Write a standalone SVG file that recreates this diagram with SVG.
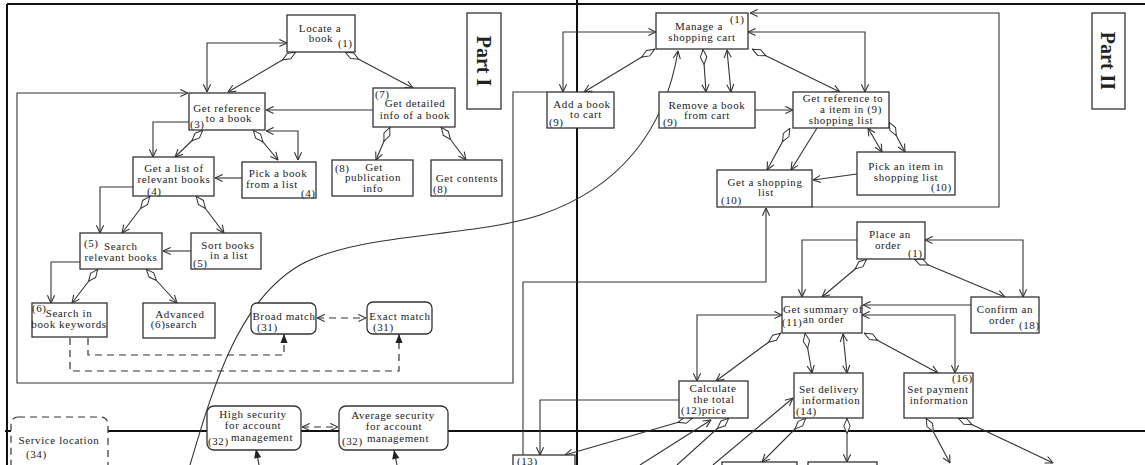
<svg xmlns="http://www.w3.org/2000/svg" width="1145" height="465" viewBox="0 0 1145 465">
<style>
.b{fill:#fff;stroke:#333;stroke-width:1.3}
.t{font-family:"Liberation Serif",serif;font-size:11px;fill:#222;letter-spacing:0.6px}
.m{text-anchor:middle}
.c{fill:none;stroke:#333;stroke-width:1.1}
.dd{fill:none;stroke:#333;stroke-width:1.2;stroke-dasharray:7,5}
.f{fill:none;stroke:#111;stroke-width:2}
.p{font-family:"Liberation Serif",serif;font-size:20px;font-weight:bold;fill:#222;text-anchor:middle;dominant-baseline:central}
</style>
<defs>
<marker id="a" viewBox="0 0 10 10" refX="9.5" refY="5" markerWidth="9" markerHeight="9" markerUnits="userSpaceOnUse" orient="auto-start-reverse"><path d="M1,1 L9.5,5 L1,9" fill="none" stroke="#333" stroke-width="1.2"/></marker>
<marker id="dm" viewBox="0 0 16 8" refX="0" refY="4" markerWidth="16" markerHeight="8" markerUnits="userSpaceOnUse" orient="auto"><path d="M0.5,4 L8,0.8 L15.5,4 L8,7.2 Z" fill="#fff" stroke="#333" stroke-width="1"/></marker>
<marker id="fa" viewBox="0 0 10 10" refX="10" refY="5" markerWidth="10" markerHeight="9" markerUnits="userSpaceOnUse" orient="auto"><path d="M0,1 L10,5 L0,9 Z" fill="#222"/></marker>
</defs>
<rect width="1145" height="465" fill="#fff"/>

<g id="frame">
<line class="f" x1="7" y1="4" x2="1145" y2="4"/>
<line class="f" x1="7" y1="4" x2="7" y2="465"/>
<line class="f" x1="577" y1="0" x2="577" y2="465"/>
<line class="f" x1="5" y1="431" x2="1145" y2="431"/>
</g>

<g id="connectors">
<path class="c" d="M287,43 L207,43 L207,92" marker-start="url(#a)" marker-end="url(#a)"/>
<path class="c" d="M296,52 L228,92" marker-start="url(#dm)" marker-end="url(#a)"/>
<path class="c" d="M345,52 L413,88" marker-start="url(#dm)" marker-end="url(#a)"/>
<path class="c" d="M373,110 L266,110" marker-end="url(#a)"/>
<path class="c" d="M266,131 L298,131 L298,160" marker-start="url(#a)" marker-end="url(#a)"/>
<path class="c" d="M189,122 L153,122 L153,157" marker-end="url(#a)"/>
<path class="c" d="M203,130 L175,157" marker-start="url(#dm)" marker-end="url(#a)"/>
<path class="c" d="M253,130 L278,160" marker-start="url(#dm)" marker-end="url(#a)"/>
<path class="c" d="M390,127 L376,160" marker-start="url(#dm)" marker-end="url(#a)"/>
<path class="c" d="M441,127 L466,160" marker-start="url(#dm)" marker-end="url(#a)"/>
<path class="c" d="M242,178 L215,178" marker-end="url(#a)"/>
<path class="c" d="M133,187 L100,187 L100,233" marker-end="url(#a)"/>
<path class="c" d="M150,196 L122,233" marker-start="url(#dm)" marker-end="url(#a)"/>
<path class="c" d="M196,196 L224,233" marker-start="url(#dm)" marker-end="url(#a)"/>
<path class="c" d="M191,251 L163,251" marker-end="url(#a)"/>
<path class="c" d="M80,262 L51,262 L51,303" marker-end="url(#a)"/>
<path class="c" d="M98,269 L72,303" marker-start="url(#dm)" marker-end="url(#a)"/>
<path class="c" d="M146,269 L177,303" marker-start="url(#dm)" marker-end="url(#a)"/>
<path class="dd" d="M88,338 L88,355 L284,355 L284,334" marker-end="url(#fa)"/>
<path class="dd" d="M70,338 L70,371 L399,371 L399,334" marker-end="url(#fa)"/>
<path class="dd" d="M317,318 L366,318" marker-start="url(#a)" marker-end="url(#a)"/>
<path class="dd" d="M302,427 L338,427" marker-start="url(#a)" marker-end="url(#a)"/>
<path class="c" d="M547,92 L513,92 L513,383 L17,383 L17,93 L188,93" marker-end="url(#a)"/>
<path class="c" d="M190,465 C215,380 240,300 300,265 C360,232 470,238 540,215 C620,188 665,130 678,51" marker-end="url(#a)"/>
<path class="c" d="M259,465 L256,449" marker-end="url(#fa)"/>
<path class="c" d="M397,465 L394,450" marker-end="url(#fa)"/>
<path class="c" d="M656,32 L563,32 L563,92" marker-start="url(#a)" marker-end="url(#a)"/>
<path class="c" d="M655,49 L584,92" marker-start="url(#dm)" marker-end="url(#a)"/>
<path class="c" d="M703,49 L706,92" marker-start="url(#dm)" marker-end="url(#a)"/>
<path class="c" d="M727,50 L731,92" marker-start="url(#a)" marker-end="url(#a)"/>
<path class="c" d="M752,49 L840,92" marker-start="url(#dm)" marker-end="url(#a)"/>
<path class="c" d="M748,32 L865,32 L865,92" marker-start="url(#a)" marker-end="url(#a)"/>
<path class="c" d="M812,207 L999,207 L999,13 L750,13" marker-end="url(#a)"/>
<path class="c" d="M755,110 L793,110" marker-end="url(#a)"/>
<path class="c" d="M790,128 L767,170" marker-start="url(#dm)" marker-end="url(#a)"/>
<path class="c" d="M817,128 L791,170" marker-end="url(#a)"/>
<path class="c" d="M868,128 L882,152" marker-start="url(#a)" marker-end="url(#a)"/>
<path class="c" d="M889,122 L905,152" marker-start="url(#dm)" marker-end="url(#a)"/>
<path class="c" d="M857,174 L813,180" marker-end="url(#a)"/>
<path class="c" d="M523,465 L523,282 L766,282 L766,208" marker-end="url(#a)"/>
<path class="c" d="M857,240 L802,240 L802,297" marker-end="url(#a)"/>
<path class="c" d="M925,240 L1023,240 L1023,297" marker-start="url(#a)" marker-end="url(#a)"/>
<path class="c" d="M867,259 L822,297" marker-start="url(#dm)" marker-end="url(#a)"/>
<path class="c" d="M914,259 L1005,297" marker-start="url(#dm)" marker-end="url(#a)"/>
<path class="c" d="M971,305 L863,305" marker-end="url(#a)"/>
<path class="c" d="M862,315 L955,315 L955,373" marker-start="url(#a)" marker-end="url(#a)"/>
<path class="c" d="M864,333 L938,373" marker-start="url(#dm)" marker-end="url(#a)"/>
<path class="c" d="M782,315 L697,315 L697,381" marker-start="url(#a)" marker-end="url(#a)"/>
<path class="c" d="M781,333 L716,381" marker-start="url(#dm)" marker-end="url(#a)"/>
<path class="c" d="M805,333 L812,373" marker-start="url(#dm)" marker-end="url(#a)"/>
<path class="c" d="M843,334 L847,373" marker-start="url(#a)" marker-end="url(#a)"/>
<path class="c" d="M679,400 L540,400 L540,455" marker-end="url(#a)"/>
<path class="c" d="M693,418 L565,455" marker-start="url(#dm)" marker-end="url(#a)"/>
<path class="c" d="M640,465 L711,420" marker-end="url(#a)"/>
<path class="c" d="M729,418 L677,465" marker-start="url(#dm)"/>
<path class="c" d="M713,465 L793,398" marker-end="url(#a)"/>
<path class="c" d="M806,418 L762,462" marker-start="url(#dm)" marker-end="url(#a)"/>
<path class="c" d="M847,418 L847,462" marker-start="url(#dm)" marker-end="url(#a)"/>
<path class="c" d="M926,418 L950,463" marker-start="url(#dm)" marker-end="url(#a)"/>
<path class="c" d="M958,418 L1053,463" marker-start="url(#dm)" marker-end="url(#a)"/>
</g>

<g id="partI"><rect class="b" x="467" y="13" width="34" height="96"/><text class="p" transform="rotate(90 484 61)" x="484" y="61">Part I</text></g>
<g id="n1"><rect class="b" x="287" y="15" width="68" height="37"/><text class="t m" x="320" y="32">Locate a</text><text class="t m" x="321" y="42">book</text><text class="t" x="338" y="47">(1)</text></g>
<g id="n3"><rect class="b" x="189" y="93" width="76" height="37"/><text class="t m" x="227" y="112">Get reference</text><text class="t m" x="229" y="122">to a book</text><text class="t" x="190" y="128">(3)</text></g>
<g id="n7"><rect class="b" x="373" y="88" width="82" height="39"/><text class="t" x="375" y="98">(7)</text><text class="t m" x="415" y="107">Get detailed</text><text class="t m" x="415" y="119">info of a book</text></g>
<g id="n4a"><rect class="b" x="133" y="157" width="81" height="39"/><text class="t m" x="174" y="172">Get a list of</text><text class="t m" x="174" y="183">relevant books</text><text class="t" x="147" y="195">(4)</text></g>
<g id="n4b"><rect class="b" x="242" y="162" width="74" height="36"/><text class="t m" x="278" y="177">Pick a book</text><text class="t m" x="272" y="188">from a list</text><text class="t" x="301" y="197">(4)</text></g>
<g id="n8a"><rect class="b" x="332" y="160" width="81" height="36"/><text class="t" x="335" y="172">(8)</text><text class="t m" x="374" y="171">Get</text><text class="t m" x="373" y="181">publication</text><text class="t m" x="373" y="192">info</text></g>
<g id="n8b"><rect class="b" x="431" y="160" width="71" height="36"/><text class="t m" x="467" y="182">Get contents</text><text class="t" x="433" y="193">(8)</text></g>
<g id="n5a"><rect class="b" x="80" y="233" width="82" height="36"/><text class="t" x="84" y="247">(5)</text><text class="t" x="104" y="250">Search</text><text class="t m" x="121" y="261">relevant books</text></g>
<g id="n5b"><rect class="b" x="191" y="233" width="70" height="36"/><text class="t m" x="228" y="249">Sort books</text><text class="t m" x="229" y="259">in a list</text><text class="t" x="193" y="267">(5)</text></g>
<g id="n6a"><rect class="b" x="32" y="303" width="75" height="34"/><text class="t" x="32" y="312">(6)</text><text class="t m" x="69" y="317">Search in</text><text class="t m" x="69" y="328">book keywords</text></g>
<g id="n6b"><rect class="b" x="143" y="303" width="72" height="35"/><text class="t m" x="180" y="318">Advanced</text><text class="t m" x="174" y="328">(6)search</text></g>
<g id="n31a"><rect class="b" x="251" y="303" width="65" height="31" rx="6"/><text class="t m" x="284" y="320">Broad match</text><text class="t" x="257" y="331">(31)</text></g>
<g id="n31b"><rect class="b" x="367" y="302" width="65" height="32" rx="6"/><text class="t m" x="400" y="320">Exact match</text><text class="t" x="373" y="331">(31)</text></g>
<g id="n34"><rect x="11" y="417" width="97" height="56" rx="7" fill="#fff" stroke="#333" stroke-width="1.2" stroke-dasharray="7,5"/><text class="t m" x="59" y="444">Service location</text><text class="t" x="26" y="458">(34)</text></g>
<g id="n32a"><rect class="b" x="207" y="406" width="94" height="44" rx="7"/><text class="t m" x="253" y="418">High security</text><text class="t m" x="253" y="429">for account</text><text class="t" x="208" y="445">(32)</text><text class="t m" x="262" y="441">management</text></g>
<g id="n32b"><rect class="b" x="339" y="406" width="109" height="44" rx="7"/><text class="t m" x="393" y="419">Average security</text><text class="t m" x="394" y="430">for account</text><text class="t" x="342" y="445">(32)</text><text class="t m" x="398" y="442">management</text></g>
<g id="n13"><rect class="b" x="513" y="455" width="62" height="15"/><text class="t" x="517" y="465">(13)</text></g>

<g id="partII"><rect class="b" x="1092" y="13" width="33" height="96"/><text class="p" transform="rotate(90 1108 61)" x="1108" y="61">Part II</text></g>
<g id="m1"><rect class="b" x="656" y="13" width="92" height="36"/><text class="t m" x="699" y="30">Manage a</text><text class="t m" x="702" y="41">shopping cart</text><text class="t" x="730" y="23">(1)</text></g>
<g id="m9a"><rect class="b" x="547" y="92" width="67" height="36"/><text class="t m" x="582" y="108">Add a book</text><text class="t m" x="586" y="118">to cart</text><text class="t" x="549" y="126">(9)</text></g>
<g id="m9b"><rect class="b" x="659" y="92" width="96" height="36"/><text class="t m" x="707" y="109">Remove a book</text><text class="t m" x="707" y="119">from cart</text><text class="t" x="663" y="126">(9)</text></g>
<g id="m9c"><rect class="b" x="793" y="92" width="96" height="36"/><text class="t m" x="843" y="102">Get reference to</text><text class="t m" x="851" y="113">a item in (9)</text><text class="t m" x="841" y="124">shopping list</text></g>
<g id="m10a"><rect class="b" x="717" y="170" width="95" height="37"/><text class="t m" x="765" y="186">Get a shopping</text><text class="t m" x="766" y="196">list</text><text class="t" x="721" y="204">(10)</text></g>
<g id="m10b"><rect class="b" x="857" y="152" width="98" height="43"/><text class="t m" x="906" y="170">Pick an item in</text><text class="t m" x="906" y="181">shopping list</text><text class="t" x="931" y="191">(10)</text></g>
<g id="o1"><rect class="b" x="857" y="222" width="68" height="37"/><text class="t m" x="890" y="238">Place an</text><text class="t m" x="888" y="249">order</text><text class="t" x="908" y="257">(1)</text></g>
<g id="o11"><rect class="b" x="782" y="297" width="80" height="36"/><text class="t m" x="823" y="313">Get summary of</text><text class="t" x="782" y="326">(11)</text><text class="t" x="803" y="323">an order</text></g>
<g id="o18"><rect class="b" x="971" y="297" width="68" height="36"/><text class="t m" x="1005" y="313">Confirm an</text><text class="t m" x="1002" y="324">order</text><text class="t" x="1019" y="329">(18)</text></g>
<g id="o12"><rect class="b" x="679" y="381" width="69" height="37"/><text class="t m" x="713" y="392">Calculate</text><text class="t m" x="714" y="403">the total</text><text class="t" x="681" y="414">(12)price</text></g>
<g id="o14"><rect class="b" x="794" y="373" width="69" height="45"/><text class="t m" x="829" y="393">Set delivery</text><text class="t m" x="831" y="404">information</text><text class="t" x="796" y="415">(14)</text></g>
<g id="o16"><rect class="b" x="904" y="373" width="69" height="45"/><text class="t" x="952" y="382">(16)</text><text class="t m" x="938" y="393">Set payment</text><text class="t m" x="939" y="404">information</text></g>
<g id="o20"><rect class="b" x="722" y="462" width="75" height="10"/></g>
<g id="o21"><rect class="b" x="808" y="462" width="69" height="10"/></g>
</svg>
